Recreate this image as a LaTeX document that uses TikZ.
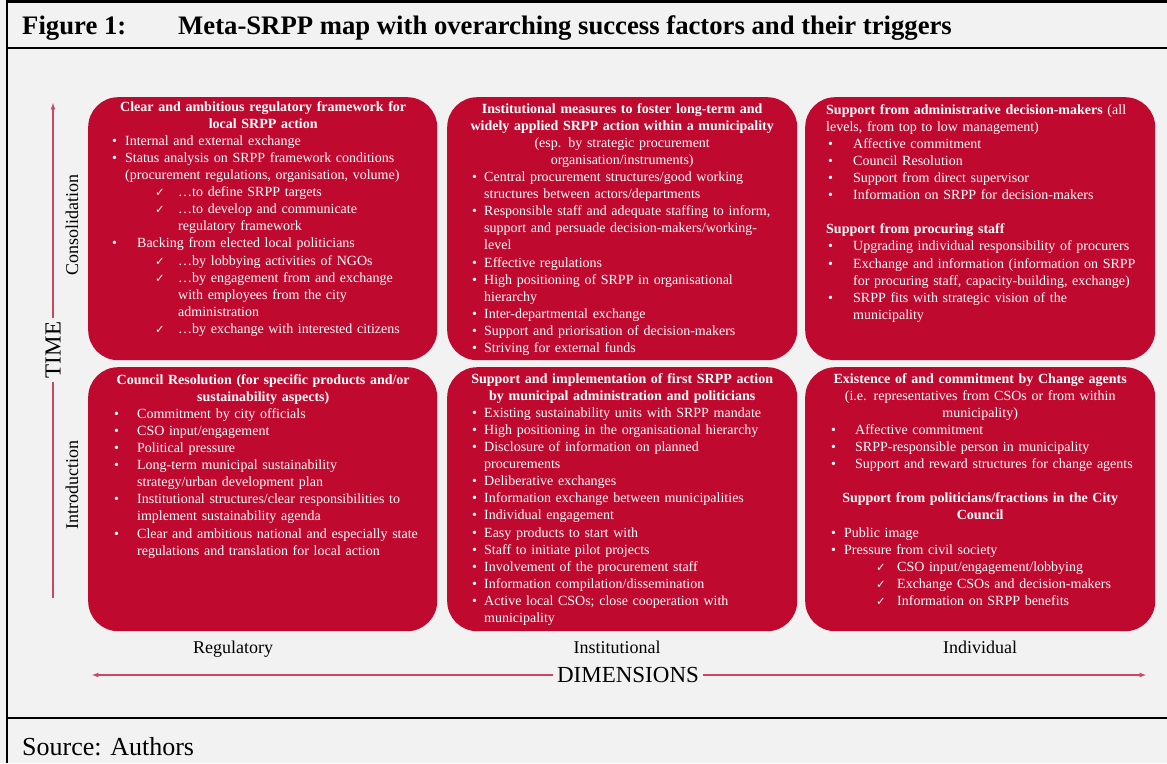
\documentclass[tikz,border=0pt]{standalone}
\usepackage{fontspec}
\setmainfont{Liberation Serif}
\newfontfamily\tickfont{DejaVu Sans}
\usetikzlibrary{positioning}
\definecolor{srppred}{RGB}{191,9,47}
\definecolor{axisred}{RGB}{204,71,99}
\definecolor{pagegray}{RGB}{242,242,242}
\newlength\cellw
\setlength\cellw{350pt}
\newcommand{\hd}[1]{\makebox[\cellw][c]{\bfseries #1}}
\newcommand{\ctr}[1]{\makebox[\cellw][c]{#1}}
\newcommand{\bul}[3]{\hspace*{#1pt}\makebox[#2pt][l]{\textbullet}#3}
\newcommand{\chk}[3]{\hspace*{#1pt}\makebox[#2pt][l]{\tickfont\fontsize{11.5}{11.5}\selectfont ✓}#3}
\newcommand{\cnt}[2]{\hspace*{#1pt}#2}
\begin{document}
\begin{tikzpicture}[x=1pt, y=-1pt,
		cell/.style={rectangle, rounded corners=30pt, fill=srppred, inner sep=0pt, anchor=north west, minimum width=350pt},
		celltext/.style={anchor=north west, inner sep=0pt, text width=\cellw, align=left, text=white, font=\fontsize{14}{17.1}\selectfont},
		dimlabel/.style={inner sep=0pt, anchor=base, font=\fontsize{18}{20}\selectfont},
		phase/.style={rotate=90, inner sep=0pt, font=\fontsize{18}{20}\selectfont},
		axis/.style={draw=axisred, line width=1.2pt},
		frame/.style={line width=2.6pt}]
	\useasboundingbox (0,0) rectangle (1167,763);
	\fill[pagegray] (0,0) rectangle (1167,763);
	\draw[frame] (7,0) -- (7,763);
	\draw[frame] (7,1.3) -- (1167,1.3);
	\draw[frame] (7,48) -- (1167,48);
	\draw[frame] (7,718) -- (1167,718);
	\node[anchor=base west, inner sep=0pt, font=\fontsize{26.7}{30}\selectfont\bfseries] (fig) at (22,34) {Figure 1:};
	\node[anchor=base west, inner sep=0pt, font=\fontsize{26.7}{30}\selectfont\bfseries] (title) at (178,34) {Meta-SRPP map with overarching success factors and their triggers};
	\node[anchor=base west, inner sep=0pt, font=\fontsize{26}{30}\selectfont] (src) at (22,755) {Source: Authors};
	\node[cell, minimum width=349pt, minimum height=263pt] (regC) at (88,97) {};
	\node[cell, minimum height=263pt] (insC) at (447,97) {};
	\node[cell, minimum height=263pt] (indC) at (805,97) {};
	\node[cell, minimum width=349pt, minimum height=264pt] (regI) at (88,367) {};
	\node[cell, minimum height=264pt] (insI) at (447,367) {};
	\node[cell, minimum height=264pt] (indI) at (805,367) {};
	\node[celltext, below right=2pt and 0pt of regC.north west] (regCtxt) {\strut\hd{Clear and ambitious regulatory framework for}\\
		\hd{local SRPP action}\\
		\bul{24}{13}{Internal and external exchange}\\
		\bul{24}{13}{Status analysis on SRPP framework conditions}\\
		\cnt{37}{(procurement regulations, organisation, volume)}\\
		\chk{67}{23}{…to define SRPP targets}\\
		\chk{67}{23}{…to develop and communicate}\\
		\cnt{90}{regulatory framework}\\
		\bul{24}{25}{Backing from elected local politicians}\\
		\chk{67}{23}{…by lobbying activities of NGOs}\\
		\chk{67}{23}{…by engagement from and exchange}\\
		\cnt{90}{with employees from the city}\\
		\cnt{90}{administration}\\
		\chk{67}{23}{…by exchange with interested citizens}};
	\node[celltext, below right=4pt and 0pt of insC.north west] (insCtxt) {\strut\hd{Institutional measures to foster long-term and}\\
		\hd{widely applied SRPP action within a municipality}\\
		\ctr{(esp. by strategic procurement}\\
		\ctr{organisation/instruments)}\\
		\bul{25}{12}{Central procurement structures/good working}\\
		\cnt{37}{structures between actors/departments}\\
		\bul{25}{12}{Responsible staff and adequate staffing to inform,}\\
		\cnt{37}{support and persuade decision-makers/working-}\\
		\cnt{37}{level}\\
		\bul{25}{12}{Effective regulations}\\
		\bul{25}{12}{High positioning of SRPP in organisational}\\
		\cnt{37}{hierarchy}\\
		\bul{25}{12}{Inter-departmental exchange}\\
		\bul{25}{12}{Support and priorisation of decision-makers}\\
		\bul{25}{12}{Striving for external funds}};
	\node[celltext, below right=5pt and 0pt of indC.north west] (indCtxt) {\strut\cnt{21}{\textbf{Support from administrative decision-makers} (all}\\
		\cnt{21}{levels, from top to low management)}\\
		\bul{23}{25}{Affective commitment}\\
		\bul{23}{25}{Council Resolution}\\
		\bul{23}{25}{Support from direct supervisor}\\
		\bul{23}{25}{Information on SRPP for decision-makers}\\
		\mbox{}\\
		\cnt{21}{\textbf{Support from procuring staff}}\\
		\bul{23}{25}{Upgrading individual responsibility of procurers}\\
		\bul{23}{25}{Exchange and information (information on SRPP}\\
		\cnt{48}{for procuring staff, capacity-building, exchange)}\\
		\bul{23}{25}{SRPP fits with strategic vision of the}\\
		\cnt{48}{municipality}};
	\node[celltext, below right=5pt and 0pt of regI.north west] (regItxt) {\strut\hd{Council Resolution (for specific products and/or}\\
		\hd{sustainability aspects)}\\
		\bul{26}{23}{Commitment by city officials}\\
		\bul{26}{23}{CSO input/engagement}\\
		\bul{26}{23}{Political pressure}\\
		\bul{26}{23}{Long-term municipal sustainability}\\
		\cnt{49}{strategy/urban development plan}\\
		\bul{26}{23}{Institutional structures/clear responsibilities to}\\
		\cnt{49}{implement sustainability agenda}\\
		\bul{26}{23}{Clear and ambitious national and especially state}\\
		\cnt{49}{regulations and translation for local action}};
	\node[celltext, below right=4pt and 0pt of insI.north west] (insItxt) {\strut\hd{Support and implementation of first SRPP action}\\
		\hd{by municipal administration and politicians}\\
		\bul{25}{12}{Existing sustainability units with SRPP mandate}\\
		\bul{25}{12}{High positioning in the organisational hierarchy}\\
		\bul{25}{12}{Disclosure of information on planned}\\
		\cnt{37}{procurements}\\
		\bul{25}{12}{Deliberative exchanges}\\
		\bul{25}{12}{Information exchange between municipalities}\\
		\bul{25}{12}{Individual engagement}\\
		\bul{25}{12}{Easy products to start with}\\
		\bul{25}{12}{Staff to initiate pilot projects}\\
		\bul{25}{12}{Involvement of the procurement staff}\\
		\bul{25}{12}{Information compilation/dissemination}\\
		\bul{25}{12}{Active local CSOs; close cooperation with}\\
		\cnt{37}{municipality}};
	\node[celltext, below right=4pt and 0pt of indI.north west] (indItxt) {\strut\hd{Existence of and commitment by Change agents}\\
		\ctr{(i.e. representatives from CSOs or from within}\\
		\ctr{municipality)}\\
		\bul{26}{24}{Affective commitment}\\
		\bul{26}{24}{SRPP-responsible person in municipality}\\
		\bul{26}{24}{Support and reward structures for change agents}\\
		\mbox{}\\
		\hd{Support from politicians/fractions in the City}\\
		\hd{Council}\\
		\bul{26}{13}{Public image}\\
		\bul{26}{13}{Pressure from civil society}\\
		\chk{71}{21}{CSO input/engagement/lobbying}\\
		\chk{71}{21}{Exchange CSOs and decision-makers}\\
		\chk{71}{21}{Information on SRPP benefits}};
	\node[dimlabel] (regl) at (233,653) {Regulatory};
	\node[dimlabel] (insl) at (617,653) {Institutional};
	\node[dimlabel] (indl) at (980,653) {Individual};
	\node[inner sep=4pt, font=\fontsize{23}{26}\selectfont] (dim) at (628,675) {DIMENSIONS};
	\coordinate (dleft) at (92,675);
	\coordinate (dright) at (1146,675);
	\draw[axis, -latex] (dim.west) -- (dleft);
	\draw[axis, -latex] (dim.east) -- (dright);
	\node[rotate=90, inner sep=4pt, font=\fontsize{23}{26}\selectfont] (time) at (53,350) {TIME};
	\node[phase] (cons) at (72,225) {Consolidation};
	\node[phase] (intro) at (72,485) {Introduction};
	\coordinate (tbot) at (53,598);
	\coordinate (ttop) at (53,103);
	\draw[axis] (tbot) -- (time.west);
	\draw[axis, -latex] (time.east) -- (ttop);
\end{tikzpicture}
\end{document}
